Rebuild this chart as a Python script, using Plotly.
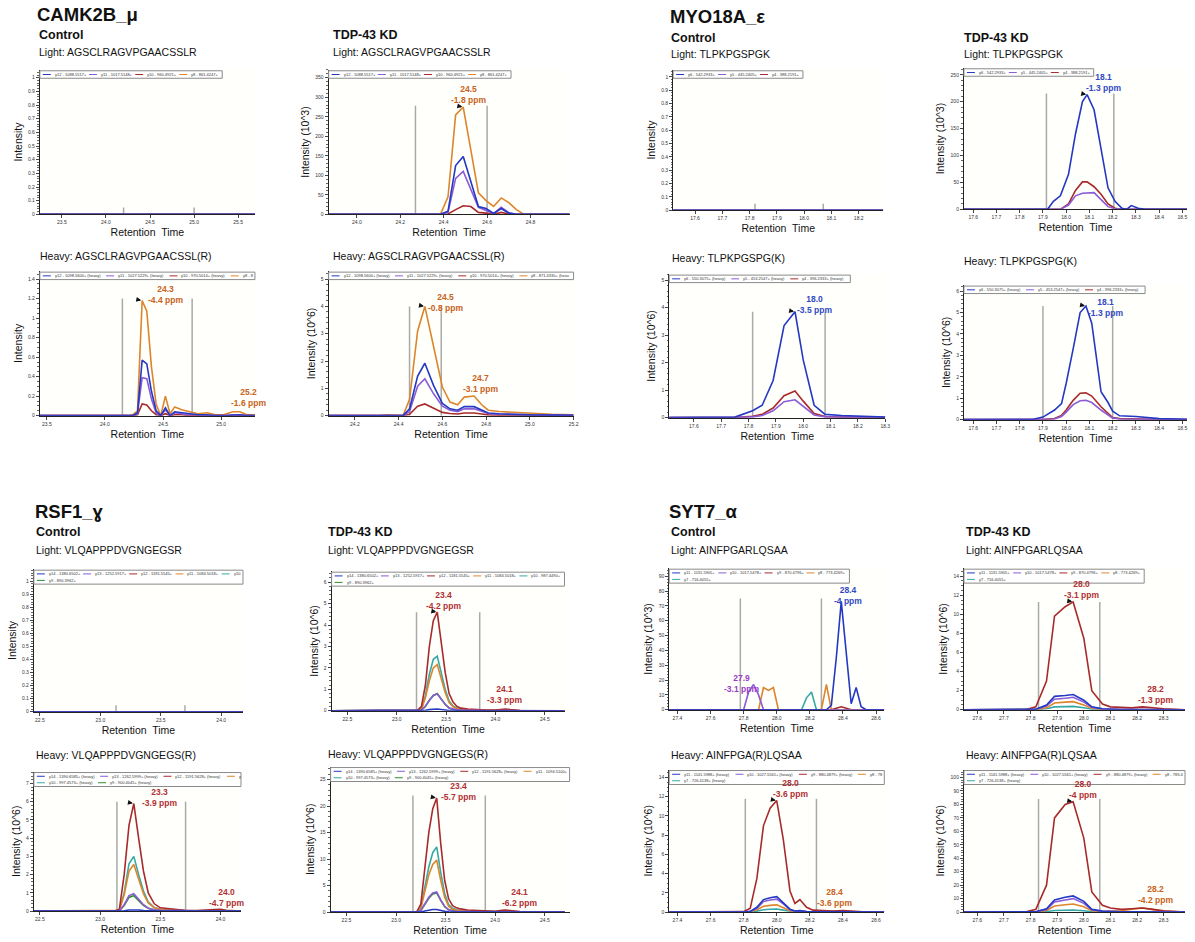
import plotly.graph_objects as go

W, H = 1195, 942
FONT = "Liberation Sans, Arial, sans-serif"

BLUE, PURPLE, BROWN, CHOC, CYAN, GREEN = "#2438c4", "#8a5cd6", "#a82a2c", "#dd852c", "#35a8a8", "#2e8b2e"
L_BLUE, L_PURPLE, L_RED, L_ORANGE = "#3148c4", "#9a3cc8", "#b03034", "#c8621c"

# ---------------- CAMK2B_mu ----------------
camk_light_ions = ["y12 - 1088.5517+", "y11 - 1017.5148+", "y10 - 960.4921+", "y8 - 861.4247+"]
camk_heavy_ions = ["y12 - 1098.5600+ (heavy)", "y11 - 1027.5229+ (heavy)", "y10 - 970.5014+ (heavy)", "y8 - 871.4330+ (heavy)"]

camk_ctrl_light_rt = [23.25, 23.7, 24.2, 24.7, 25.2, 25.69]
camk_ctrl_light_zero = [0, 0, 0, 0, 0, 0]

camk_kd_light_rt = [23.87, 24.35, 24.385, 24.42, 24.455, 24.49, 24.525, 24.56, 24.595, 24.63, 24.665, 24.70, 24.735, 24.77, 24.98]
camk_kd_light_y12 = [0, 0, 0, 8, 125, 148, 85, 20, 15, 2, 15, 3, 0, 0, 0]
camk_kd_light_y11 = [0, 0, 0, 5, 92, 110, 65, 18, 10, 2, 18, 4, 0, 0, 0]
camk_kd_light_y10 = [0, 0, 0, 1, 12, 22, 20, 5, 3, 0, 5, 1, 0, 0, 0]
camk_kd_light_y8 = [0, 0, 0, 45, 255, 275, 165, 55, 35, 20, 42, 30, 12, 0, 0]

camk_ctrl_heavy_rt = [23.44, 24.20, 24.24, 24.28, 24.32, 24.36, 24.40, 24.44, 24.48, 24.52, 24.56, 24.60, 24.66, 24.72, 24.80, 24.88, 24.95, 25.02, 25.10, 25.16, 25.22, 25.29]
camk_ctrl_heavy_y12 = [0, 0, 0, 0.03, 0.57, 0.53, 0.25, 0.05, 0, 0.08, 0, 0.04, 0.03, 0.02, 0.01, 0.01, 0, 0, 0.01, 0.01, 0, 0]
camk_ctrl_heavy_y11 = [0, 0, 0, 0.02, 0.39, 0.38, 0.17, 0.03, 0, 0.06, 0, 0.03, 0.02, 0.01, 0.01, 0, 0, 0, 0.01, 0.01, 0, 0]
camk_ctrl_heavy_y10 = [0, 0, 0, 0.01, 0.12, 0.11, 0.05, 0.01, 0, 0.02, 0, 0.01, 0.01, 0, 0, 0, 0, 0, 0, 0, 0, 0]
camk_ctrl_heavy_y8 = [0, 0, 0.01, 0.05, 1.18, 1.07, 0.5, 0.12, 0.0, 0.2, 0.02, 0.09, 0.06, 0.04, 0.02, 0.03, 0.01, 0.01, 0.04, 0.04, 0.01, 0.01]

camk_kd_heavy_rt = [24.08, 24.30, 24.35, 24.40, 24.42, 24.45, 24.487, 24.52, 24.56, 24.60, 24.635, 24.67, 24.70, 24.745, 24.78, 24.81, 24.86, 24.92, 25.0, 25.1, 25.2]
camk_kd_heavy_y12 = [0, 0, 0.01, 0, 0, 0.25, 1.45, 1.92, 1.1, 0.45, 0.25, 0.2, 0.33, 0.33, 0.2, 0.1, 0.07, 0.05, 0.03, 0.02, 0.01]
camk_kd_heavy_y11 = [0, 0, 0.01, 0, 0, 0.15, 1.08, 1.35, 0.8, 0.35, 0.2, 0.15, 0.25, 0.25, 0.15, 0.08, 0.05, 0.04, 0.03, 0.02, 0.01]
camk_kd_heavy_y10 = [0, 0, 0, 0, 0, 0.05, 0.35, 0.43, 0.28, 0.12, 0.08, 0.06, 0.1, 0.1, 0.06, 0.03, 0.02, 0.02, 0.01, 0.01, 0]
camk_kd_heavy_y8 = [0, 0, 0.03, 0, 0, 0.6, 3.1, 4.0, 2.5, 1.05, 0.5, 0.4, 0.68, 0.72, 0.4, 0.2, 0.15, 0.12, 0.08, 0.05, 0.03]

# ---------------- MYO18A_epsilon ----------------
myo_light_ions = ["y6 - 542.2933+", "y5 - 445.2405+", "y4 - 388.2191+"]
myo_heavy_ions = ["y6 - 550.3075+ (heavy)", "y5 - 453.2547+ (heavy)", "y4 - 396.2333+ (heavy)"]

myo_ctrl_light_rt = [17.52, 17.7, 17.9, 18.1, 18.29]
myo_ctrl_light_zero = [0, 0, 0, 0, 0]

myo_kd_light_rt = [17.56, 17.90, 17.92, 17.945, 17.975, 18.01, 18.04, 18.07, 18.09, 18.12, 18.15, 18.18, 18.21, 18.24, 18.26, 18.28, 18.31, 18.34, 18.52]
myo_kd_light_y6 = [0, 0, 0, 15, 25, 65, 140, 200, 213, 185, 110, 40, 15, 2, 0, 7, 2, 0, 0]
myo_kd_light_y5 = [0, 0, 0, 0, 0, 8, 25, 30, 30, 31, 18, 5, 1, 0, 0, 0, 0, 0, 0]
myo_kd_light_y4 = [0, 0, 0, 0, 0, 10, 35, 51, 51, 42, 28, 10, 2, 0, 0, 0, 0, 0, 0]

myo_ctrl_heavy_rt = [17.51, 17.70, 17.75, 17.815, 17.85, 17.89, 17.93, 17.97, 18.0, 18.04, 18.08, 18.14, 18.2, 18.3]
myo_ctrl_heavy_y6 = [0, 0, 0.02, 0.25, 0.45, 1.35, 3.35, 3.85, 2.1, 0.45, 0.12, 0.08, 0.05, 0.02]
myo_ctrl_heavy_y5 = [0, 0, 0, 0.03, 0.08, 0.25, 0.58, 0.65, 0.4, 0.1, 0.03, 0.02, 0.01, 0]
myo_ctrl_heavy_y4 = [0, 0, 0, 0.05, 0.12, 0.35, 0.8, 0.97, 0.6, 0.15, 0.04, 0.02, 0.01, 0]

myo_kd_heavy_rt = [17.56, 17.85, 17.90, 17.95, 17.98, 18.00, 18.03, 18.06, 18.085, 18.11, 18.15, 18.18, 18.20, 18.23, 18.30, 18.40, 18.52]
myo_kd_heavy_y6 = [0, 0, 0.12, 0.45, 0.75, 1.7, 3.3, 5.0, 5.3, 4.5, 1.3, 0.8, 0.4, 0.18, 0.15, 0.05, 0.02]
myo_kd_heavy_y5 = [0, 0, 0, 0.03, 0.15, 0.35, 0.7, 0.88, 0.9, 0.8, 0.45, 0.2, 0.07, 0.03, 0.01, 0, 0]
myo_kd_heavy_y4 = [0, 0, 0, 0.05, 0.2, 0.45, 0.9, 1.23, 1.25, 1.1, 0.6, 0.3, 0.1, 0.05, 0.02, 0, 0]

# ---------------- RSF1_gamma ----------------
rsf_light_ions = ["y14 - 1380.6502+", "y13 - 1252.5917+", "y12 - 1181.5545+", "y11 - 1084.5018+", "y10 - 987.4490+", "y9 - 890.3962+"]
rsf_heavy_ions = ["y14 - 1390.6585+ (heavy)", "y13 - 1262.5999+ (heavy)", "y12 - 1191.5628+ (heavy)", "y11 - 1094.5100+ (heavy)", "y10 - 997.4573+ (heavy)", "y9 - 900.4045+ (heavy)"]

rsf_ctrl_light_rt = [22.45, 22.9, 23.4, 23.9, 24.18]
rsf_ctrl_light_zero = [0, 0, 0, 0, 0]

rsf_kd_rt = [22.34, 23.17, 23.21, 23.25, 23.29, 23.33, 23.37, 23.41, 23.45, 23.49, 23.53, 23.57, 23.61, 23.65, 23.72, 23.80, 23.90, 24.00, 24.05, 24.10, 24.15, 24.25, 24.70]
rsf_kd_light_y14 = [0, 0, 0, 0, 0.02, 0.05, 0.07, 0.08, 0.06, 0.03, 0.01, 0.01, 0, 0, 0, 0, 0, 0, 0, 0, 0, 0, 0]
rsf_kd_light_y13 = [0, 0, 0, 0.03, 0.22, 0.5, 0.72, 0.78, 0.55, 0.3, 0.13, 0.07, 0.04, 0.03, 0.02, 0.01, 0, 0, 0.01, 0.01, 0.01, 0, 0]
rsf_kd_light_y12 = [0, 0, 0.02, 0.2, 1.2, 3.0, 4.2, 4.6, 3.3, 1.8, 0.8, 0.4, 0.2, 0.12, 0.08, 0.05, 0.03, 0.03, 0.06, 0.08, 0.05, 0.01, 0]
rsf_kd_light_y11 = [0, 0, 0.01, 0.08, 0.6, 1.4, 2.0, 2.15, 1.5, 0.85, 0.38, 0.18, 0.1, 0.06, 0.04, 0.02, 0.01, 0.01, 0.02, 0.03, 0.02, 0, 0]
rsf_kd_light_y10 = [0, 0, 0.01, 0.1, 0.7, 1.7, 2.4, 2.55, 1.8, 1.0, 0.45, 0.22, 0.12, 0.08, 0.05, 0.03, 0.02, 0.01, 0.02, 0.03, 0.02, 0, 0]
rsf_kd_light_y9 = [0, 0, 0, 0.03, 0.2, 0.5, 0.7, 0.8, 0.55, 0.3, 0.13, 0.06, 0.04, 0.02, 0.01, 0.01, 0, 0, 0.01, 0.01, 0, 0, 0]

rsf_ctrl_heavy_rt = [22.45, 23.08, 23.12, 23.16, 23.20, 23.24, 23.28, 23.32, 23.36, 23.40, 23.45, 23.50, 23.60, 23.70, 23.80, 23.90, 23.95, 24.00, 24.05, 24.17]
rsf_ctrl_heavy_y14 = [0, 0, 0, 0, 0.02, 0.06, 0.08, 0.06, 0.03, 0.01, 0, 0, 0, 0, 0, 0, 0, 0, 0, 0]
rsf_ctrl_heavy_y13 = [0, 0, 0, 0.02, 0.35, 0.85, 0.95, 0.65, 0.35, 0.16, 0.07, 0.04, 0.02, 0.01, 0.01, 0.01, 0.01, 0.01, 0.01, 0]
rsf_ctrl_heavy_y12 = [0, 0, 0, 0.1, 2.0, 4.7, 5.9, 4.0, 2.2, 1.0, 0.4, 0.18, 0.1, 0.05, 0.03, 0.04, 0.08, 0.1, 0.05, 0]
rsf_ctrl_heavy_y11 = [0, 0, 0, 0.04, 0.9, 2.2, 2.55, 1.7, 0.95, 0.45, 0.18, 0.09, 0.05, 0.03, 0.02, 0.02, 0.03, 0.03, 0.02, 0]
rsf_ctrl_heavy_y10 = [0, 0, 0, 0.05, 1.0, 2.6, 3.0, 2.0, 1.1, 0.5, 0.2, 0.1, 0.05, 0.03, 0.02, 0.02, 0.03, 0.03, 0.02, 0]
rsf_ctrl_heavy_y9 = [0, 0, 0, 0.02, 0.3, 0.75, 0.85, 0.58, 0.32, 0.15, 0.06, 0.03, 0.02, 0.01, 0.01, 0.01, 0.01, 0.01, 0.01, 0]

rsf_kd_heavy_y14 = [0, 0, 0, 0.03, 0.2, 0.38, 0.48, 0.5, 0.3, 0.14, 0.06, 0.03, 0.02, 0.01, 0.01, 0, 0, 0, 0, 0, 0, 0, 0]
rsf_kd_heavy_y13 = [0, 0, 0.02, 0.3, 1.5, 2.8, 3.6, 3.8, 2.3, 1.1, 0.45, 0.22, 0.14, 0.1, 0.06, 0.04, 0.03, 0.02, 0.03, 0.04, 0.03, 0.01, 0]
rsf_kd_heavy_y12 = [0, 0, 0.1, 1.5, 8, 15, 19.5, 21.5, 13, 6, 2.5, 1.2, 0.8, 0.6, 0.4, 0.3, 0.2, 0.15, 0.3, 0.4, 0.3, 0.1, 0]
rsf_kd_heavy_y11 = [0, 0, 0.04, 0.7, 3.8, 7.0, 9.0, 9.8, 6.0, 2.8, 1.1, 0.55, 0.35, 0.25, 0.15, 0.1, 0.08, 0.06, 0.08, 0.12, 0.08, 0.02, 0]
rsf_kd_heavy_y10 = [0, 0, 0.05, 0.8, 4.5, 8.5, 11.2, 12.3, 7.5, 3.5, 1.4, 0.7, 0.45, 0.3, 0.2, 0.15, 0.1, 0.08, 0.1, 0.15, 0.1, 0.03, 0]
rsf_kd_heavy_y9 = [0, 0, 0.02, 0.28, 1.4, 2.6, 3.4, 3.6, 2.2, 1.0, 0.42, 0.2, 0.13, 0.09, 0.05, 0.04, 0.03, 0.02, 0.03, 0.04, 0.03, 0.01, 0]

# ---------------- SYT7_alpha ----------------
syt_light_ions = ["y11 - 1131.5905+", "y10 - 1017.5478+", "y9 - 870.4796+", "y8 - 773.4269+", "y7 - 716.4055+"]
syt_heavy_ions = ["y11 - 1141.5988+ (heavy)", "y10 - 1027.5561+ (heavy)", "y9 - 880.4879+ (heavy)", "y8 - 783.4352+ (heavy)", "y7 - 726.4138+ (heavy)"]

syt_ctrl_light_rt = [27.35, 27.77, 27.80, 27.83, 27.86, 27.89, 27.92, 27.95, 27.98, 28.01, 28.12, 28.15, 28.18, 28.21, 28.24, 28.27, 28.30, 28.33, 28.36, 28.39, 28.42, 28.45, 28.48, 28.51, 28.54, 28.65]
syt_ctrl_light_y11 = [0, 0, 0, 0, 0, 0, 0, 0, 0, 0, 0, 0, 0, 0, 0, 0, 0, 3, 35, 73, 40, 4, 15, 2, 0, 0]
syt_ctrl_light_y10 = [0, 0, 0, 12, 17, 10, 0, 0, 0, 0, 0, 0, 0, 0, 0, 0, 0, 0, 0, 0, 0, 0, 0, 0, 0, 0]
syt_ctrl_light_y9 = [0, 0, 0, 0, 0, 0, 0, 0, 0, 0, 0, 0, 0, 0, 0, 0, 0, 0, 1, 2, 1, 0, 0, 0, 0, 0]
syt_ctrl_light_y8 = [0, 0, 0, 0, 0, 0, 15, 13, 15, 0, 0, 0, 0, 0, 0, 0, 17, 0, 0, 0, 0, 0, 0, 0, 0, 0]
syt_ctrl_light_y7 = [0, 0, 0, 0, 0, 0, 0, 0, 0, 0, 0, 0, 8, 12, 0, 0, 0, 0, 0, 0, 0, 0, 0, 0, 0, 0]

syt_kd_rt = [27.55, 27.78, 27.82, 27.86, 27.89, 27.93, 27.96, 28.00, 28.03, 28.07, 28.10, 28.14, 28.18, 28.22, 28.26, 28.30, 28.38]
syt_kd_light_y11 = [0, 0, 0.05, 0.5, 1.4, 1.5, 1.6, 1.0, 0.3, 0.1, 0.05, 0.03, 0.02, 0.03, 0.02, 0.01, 0]
syt_kd_light_y10 = [0, 0, 0.04, 0.4, 1.1, 1.2, 1.3, 0.8, 0.25, 0.08, 0.04, 0.02, 0.02, 0.02, 0.01, 0, 0]
syt_kd_light_y9 = [0, 0, 0.3, 3.0, 9.8, 10.8, 11.3, 7.5, 2.0, 0.6, 0.3, 0.25, 0.2, 0.3, 0.2, 0.1, 0]
syt_kd_light_y8 = [0, 0, 0.02, 0.2, 0.7, 0.8, 0.85, 0.5, 0.15, 0.05, 0.02, 0.01, 0.01, 0.02, 0.01, 0, 0]
syt_kd_light_y7 = [0, 0, 0.01, 0.1, 0.3, 0.32, 0.35, 0.2, 0.06, 0.02, 0.01, 0, 0, 0, 0, 0, 0]

syt_ctrl_heavy_rt = [27.35, 27.76, 27.80, 27.84, 27.88, 27.92, 27.96, 28.00, 28.04, 28.08, 28.11, 28.14, 28.18, 28.22, 28.28, 28.34, 28.40, 28.46, 28.52, 28.65]
syt_ctrl_heavy_y11 = [0, 0, 0.01, 0.08, 0.5, 1.3, 1.5, 1.6, 1.0, 0.3, 0.12, 0.15, 0.06, 0.03, 0.02, 0.02, 0.03, 0.02, 0, 0]
syt_ctrl_heavy_y10 = [0, 0, 0.01, 0.06, 0.4, 1.1, 1.25, 1.35, 0.85, 0.25, 0.1, 0.12, 0.05, 0.02, 0.02, 0.02, 0.02, 0.01, 0, 0]
syt_ctrl_heavy_y9 = [0, 0, 0.05, 0.4, 3.5, 9.0, 10.8, 11.6, 7.5, 2.2, 0.9, 1.3, 0.5, 0.2, 0.12, 0.1, 0.15, 0.08, 0.03, 0]
syt_ctrl_heavy_y8 = [0, 0, 0, 0.04, 0.25, 0.6, 0.7, 0.75, 0.45, 0.14, 0.06, 0.08, 0.03, 0.02, 0.03, 0.05, 0.12, 0.05, 0.01, 0]
syt_ctrl_heavy_y7 = [0, 0, 0, 0.02, 0.1, 0.25, 0.3, 0.32, 0.2, 0.06, 0.03, 0.03, 0.01, 0, 0, 0, 0, 0, 0, 0]

syt_kd_heavy_y11 = [0, 0, 0.3, 2.5, 9, 11, 12, 8, 2, 0.7, 0.4, 0.3, 0.3, 0.4, 0.3, 0.1, 0]
syt_kd_heavy_y10 = [0, 0, 0.25, 2, 7.5, 9, 10, 6.5, 1.7, 0.6, 0.3, 0.2, 0.3, 0.3, 0.2, 0.1, 0]
syt_kd_heavy_y9 = [0, 0, 2, 20, 70, 80, 82, 55, 15, 5, 3, 2, 2.5, 3, 2, 1, 0]
syt_kd_heavy_y8 = [0, 0, 0.15, 1.2, 4.5, 5.5, 6, 4, 1, 0.4, 0.5, 1.0, 2.2, 3.0, 1.8, 0.6, 0]
syt_kd_heavy_y7 = [0, 0, 0.05, 0.4, 1.2, 1.4, 1.5, 1.0, 0.3, 0.1, 0.05, 0.03, 0.05, 0.06, 0.04, 0.02, 0]

# peak integration boundaries (retention time)
camk_bounds = {"ctrl_light": [24.2, 25.0], "kd_light": [24.27, 24.60], "ctrl_heavy": [24.15, 24.75], "kd_heavy": [24.45, 24.595]}
myo_bounds = {"ctrl_light": [17.82, 18.07], "kd_light": [17.915, 18.205], "ctrl_heavy": [17.815, 18.08], "kd_heavy": [17.90, 18.20]}
rsf_bounds = {"ctrl_light": [23.13, 23.70], "kd_light": [23.20, 23.84], "ctrl_heavy": [23.14, 23.71], "kd_heavy": [23.17, 23.90]}
syt_bounds = {"ctrl_light": [27.78, 28.27], "kd_light": [27.83, 28.06], "ctrl_heavy": [27.81, 28.24], "kd_heavy": [27.83, 28.06]}


def ser(names, colors, arrays):
    return list(zip(names, colors, arrays))


C4 = [BLUE, PURPLE, BROWN, CHOC]
C3 = [BLUE, PURPLE, BROWN]
C6 = [BLUE, PURPLE, BROWN, CHOC, CYAN, GREEN]
C5 = [BLUE, PURPLE, BROWN, CHOC, CYAN]

panels = [
    # CAMK2B
    dict(box=(40, 256, 70, 215), ymax=1, ymax_px=78, dy=0.1, xr=[23.25, 25.69], t0=23.5, dx=0.5, yt="Intensity",
         rt=camk_ctrl_light_rt, series=ser(camk_light_ions, C4, [camk_ctrl_light_zero] * 4),
         bounds=camk_bounds["ctrl_light"], btop=0.05, per_row=4, peak=None, labels=[]),
    dict(box=(330, 572, 70, 215), ymax=350, ymax_px=78, dy=50, xr=[23.87, 24.98], t0=24.0, dx=0.2, yt="Intensity (10^3)",
         rt=camk_kd_light_rt, series=ser(camk_light_ions, C4, [camk_kd_light_y12, camk_kd_light_y11, camk_kd_light_y10, camk_kd_light_y8]),
         bounds=camk_bounds["kd_light"], btop=278, per_row=4, peak=3,
         labels=[(470, 95, "24.5<br>-1.8 ppm", L_ORANGE)]),
    dict(box=(40, 256, 272, 417), ymax=1.4, ymax_px=280, dy=0.2, xr=[23.44, 25.29], t0=23.5, dx=0.5, yt="Intensity",
         rt=camk_ctrl_heavy_rt, series=ser(camk_heavy_ions, C4, [camk_ctrl_heavy_y12, camk_ctrl_heavy_y11, camk_ctrl_heavy_y10, camk_ctrl_heavy_y8]),
         bounds=camk_bounds["ctrl_heavy"], btop=1.2, per_row=4, peak=3,
         labels=[(166, 295, "24.3<br>-4.4 ppm", L_ORANGE), (250, 399, "25.2<br>-1.6 ppm", L_ORANGE)]),
    dict(box=(330, 576, 272, 417), ymax=5, ymax_px=280, dy=1, xr=[24.08, 25.2], t0=24.2, dx=0.2, yt="Intensity (10^6)",
         rt=camk_kd_heavy_rt, series=ser(camk_heavy_ions, C4, [camk_kd_heavy_y12, camk_kd_heavy_y11, camk_kd_heavy_y10, camk_kd_heavy_y8]),
         bounds=camk_bounds["kd_heavy"], btop=4.0, per_row=4, peak=3,
         labels=[(447, 303, "24.5<br>-0.8 ppm", L_ORANGE), (483, 385, "24.7<br>-3.1 ppm", L_ORANGE)]),
    # MYO18A
    dict(box=(676, 887, 70, 211), ymax=1, ymax_px=77, dy=0.1, xr=[17.52, 18.29], t0=17.6, dx=0.1, yt="Intensity",
         rt=myo_ctrl_light_rt, series=ser(myo_light_ions, C3, [myo_ctrl_light_zero] * 3),
         bounds=myo_bounds["ctrl_light"], btop=0.05, per_row=3, peak=None, labels=[]),
    dict(box=(968, 1192, 68, 210), ymax=250, ymax_px=75, dy=50, xr=[17.56, 18.52], t0=17.6, dx=0.1, yt="Intensity (10^3)",
         rt=myo_kd_light_rt, series=ser(myo_light_ions, C3, [myo_kd_light_y6, myo_kd_light_y5, myo_kd_light_y4]),
         bounds=myo_bounds["kd_light"], btop=215, per_row=3, peak=0,
         labels=[(1108, 83, "18.1<br>-1.3 ppm", L_BLUE)]),
    dict(box=(672, 889, 275, 419), ymax=5, ymax_px=281, dy=1, xr=[17.51, 18.3], t0=17.6, dx=0.1, yt="Intensity (10^6)",
         rt=myo_ctrl_heavy_rt, series=ser(myo_heavy_ions, C3, [myo_ctrl_heavy_y6, myo_ctrl_heavy_y5, myo_ctrl_heavy_y4]),
         bounds=myo_bounds["ctrl_heavy"], btop=3.85, per_row=3, peak=0,
         labels=[(818, 305, "18.0<br>-3.5 ppm", L_BLUE)]),
    dict(box=(968, 1192, 286, 421), ymax=6, ymax_px=292, dy=1, xr=[17.56, 18.52], t0=17.6, dx=0.1, yt="Intensity (10^6)",
         rt=myo_kd_heavy_rt, series=ser(myo_heavy_ions, C3, [myo_kd_heavy_y6, myo_kd_heavy_y5, myo_kd_heavy_y4]),
         bounds=myo_bounds["kd_heavy"], btop=5.3, per_row=3, peak=0,
         labels=[(1110, 308, "18.1<br>-1.3 ppm", L_BLUE)]),
    # RSF1
    dict(box=(34, 244, 571, 714), ymax=1, ymax_px=583, dy=0.1, xr=[22.45, 24.18], t0=22.5, dx=0.5, yt="Intensity",
         rt=rsf_ctrl_light_rt, series=ser(rsf_light_ions, C6, [rsf_ctrl_light_zero] * 6),
         bounds=rsf_bounds["ctrl_light"], btop=0.05, per_row=5, peak=None, labels=[]),
    dict(box=(333, 567, 573, 713), ymax=6, ymax_px=584, dy=1, xr=[22.34, 24.7], t0=22.5, dx=0.5, yt="Intensity (10^6)",
         rt=rsf_kd_rt, series=ser(rsf_light_ions, C6, [rsf_kd_light_y14, rsf_kd_light_y13, rsf_kd_light_y12, rsf_kd_light_y11, rsf_kd_light_y10, rsf_kd_light_y9]),
         bounds=rsf_bounds["kd_light"], btop=4.6, per_row=5, peak=2,
         labels=[(445, 602, "23.4<br>-4.2 ppm", L_RED), (507, 697, "24.1<br>-3.3 ppm", L_RED)]),
    dict(box=(34, 242, 774, 914), ymax=7, ymax_px=786, dy=1, xr=[22.45, 24.17], t0=22.5, dx=0.5, yt="Intensity (10^6)",
         rt=rsf_ctrl_heavy_rt, series=ser(rsf_heavy_ions, C6, [rsf_ctrl_heavy_y14, rsf_ctrl_heavy_y13, rsf_ctrl_heavy_y12, rsf_ctrl_heavy_y11, rsf_ctrl_heavy_y10, rsf_ctrl_heavy_y9]),
         bounds=rsf_bounds["ctrl_heavy"], btop=6.0, per_row=4, peak=2,
         labels=[(160, 800, "23.3<br>-3.9 ppm", L_RED), (227, 900, "24.0<br>-4.7 ppm", L_RED)]),
    dict(box=(332, 572, 769, 915), ymax=25, ymax_px=782, dy=5, xr=[22.34, 24.75], t0=22.5, dx=0.5, yt="Intensity (10^6)",
         rt=rsf_kd_rt, series=ser(rsf_heavy_ions, C6, [rsf_kd_heavy_y14, rsf_kd_heavy_y13, rsf_kd_heavy_y12, rsf_kd_heavy_y11, rsf_kd_heavy_y10, rsf_kd_heavy_y9]),
         bounds=rsf_bounds["kd_heavy"], btop=22, per_row=4, peak=2,
         labels=[(460, 794, "23.4<br>-5.7 ppm", L_RED), (522, 900, "24.1<br>-6.2 ppm", L_RED)]),
    # SYT7
    dict(box=(672, 888, 570, 712), ymax=90, ymax_px=578, dy=10, xr=[27.35, 28.65], t0=27.4, dx=0.2, yt="Intensity (10^3)",
         rt=syt_ctrl_light_rt, series=ser(syt_light_ions, C5, [syt_ctrl_light_y11, syt_ctrl_light_y10, syt_ctrl_light_y9, syt_ctrl_light_y8, syt_ctrl_light_y7]),
         bounds=syt_bounds["ctrl_light"], btop=75, per_row=4, peak=None,
         labels=[(745, 686, "27.9<br>-3.1 ppm", L_PURPLE), (852, 597, "28.4<br>-4 ppm", L_BLUE)]),
    dict(box=(968, 1190, 570, 712), ymax=14, ymax_px=578, dy=2, xr=[27.55, 28.38], t0=27.6, dx=0.1, yt="Intensity (10^6)",
         rt=syt_kd_rt, series=ser(syt_light_ions, C5, [syt_kd_light_y11, syt_kd_light_y10, syt_kd_light_y9, syt_kd_light_y8, syt_kd_light_y7]),
         bounds=syt_bounds["kd_light"], btop=11.3, per_row=4, peak=2,
         labels=[(1086, 591, "28.0<br>-3.1 ppm", L_RED), (1160, 697, "28.2<br>-1.3 ppm", L_RED)]),
    dict(box=(672, 888, 772, 915), ymax=14, ymax_px=780, dy=2, xr=[27.35, 28.65], t0=27.4, dx=0.2, yt="Intensity (10^6)",
         rt=syt_ctrl_heavy_rt, series=ser(syt_heavy_ions, C5, [syt_ctrl_heavy_y11, syt_ctrl_heavy_y10, syt_ctrl_heavy_y9, syt_ctrl_heavy_y8, syt_ctrl_heavy_y7]),
         bounds=syt_bounds["ctrl_heavy"], btop=11.8, per_row=4, peak=2,
         labels=[(794, 791, "28.0<br>-3.6 ppm", L_RED), (838, 900, "28.4<br>-3.6 ppm", L_ORANGE)]),
    dict(box=(968, 1190, 772, 915), ymax=100, ymax_px=780, dy=10, xr=[27.55, 28.38], t0=27.6, dx=0.1, yt="Intensity (10^6)",
         rt=syt_kd_rt, series=ser(syt_heavy_ions, C5, [syt_kd_heavy_y11, syt_kd_heavy_y10, syt_kd_heavy_y9, syt_kd_heavy_y8, syt_kd_heavy_y7]),
         bounds=syt_bounds["kd_heavy"], btop=84, per_row=4, peak=2,
         labels=[(1088, 792, "28.0<br>-4 ppm", L_RED), (1160, 897, "28.2<br>-4.2 ppm", L_ORANGE)]),
]

texts = [
    # (text, x_px, y_px, size, bold)
    ("CAMK2B_μ", 35, 15, 18.5, True), ("MYO18A_ε", 671, 17, 18.5, True),
    ("RSF1_ɣ", 33, 513, 18.5, True), ("SYT7_α", 670, 513, 18.5, True),
    ("Control", 37, 35, 12.5, True), ("TDP-43 KD", 332, 35, 12.5, True),
    ("Control", 672, 38, 12.5, True), ("TDP-43 KD", 966, 38, 12.5, True),
    ("Control", 34, 534, 12.5, True), ("TDP-43 KD", 327, 534, 12.5, True),
    ("Control", 672, 534, 12.5, True), ("TDP-43 KD", 968, 534, 12.5, True),
    ("Light: AGSCLRAGVPGAACSSLR", 37, 52, 10.5, False), ("Light: AGSCLRAGVPGAACSSLR", 332, 52, 10.5, False),
    ("Heavy: AGSCLRAGVPGAACSSL(R)", 38, 257, 10.5, False), ("Heavy: AGSCLRAGVPGAACSSL(R)", 332, 257, 10.5, False),
    ("Light: TLPKPGSPGK", 672, 54, 10.5, False), ("Light: TLPKPGSPGK", 966, 54, 10.5, False),
    ("Heavy: TLPKPGSPG(K)", 673, 259, 10.5, False), ("Heavy: TLPKPGSPG(K)", 966, 262, 10.5, False),
    ("Light: VLQAPPPDVGNGEGSR", 34, 552, 10.5, False), ("Light: VLQAPPPDVGNGEGSR", 327, 552, 10.5, False),
    ("Heavy: VLQAPPPDVGNGEGS(R)", 34, 757, 10.5, False), ("Heavy: VLQAPPPDVGNGEGS(R)", 327, 756, 10.5, False),
    ("Light: AINFPGARLQSAA", 672, 552, 10.5, False), ("Light: AINFPGARLQSAA", 968, 552, 10.5, False),
    ("Heavy: AINFPGA(R)LQSAA", 672, 757, 10.5, False), ("Heavy: AINFPGA(R)LQSAA", 968, 757, 10.5, False),
]

CHAR_W = 2.15  # approx. width of one legend character (px) at legend font size


def fx(x):
    return x / W


def fy(y):
    return 1 - y / H


fig = go.Figure()
layout = {}
shapes = []
annotations = []

for i, p in enumerate(panels, start=1):
    sfx = "" if i == 1 else str(i)
    xa, ya = "x" + sfx, "y" + sfx
    l, r, t, b = p["box"]
    ytop = p["ymax"] * (b - t) / (b - p["ymax_px"])
    # first fragment drawn last (on top), as in Skyline
    for name, color, vals in reversed(p["series"]):
        fig.add_trace(go.Scatter(x=p["rt"], y=vals, name=name, mode="lines",
                                 line=dict(color=color, width=1.6), xaxis=xa, yaxis=ya,
                                 showlegend=False, hoverinfo="x+y+name"))
    layout["xaxis" + sfx] = dict(
        domain=[fx(l), fx(r)], anchor=ya, range=p["xr"], tick0=p["t0"], dtick=p["dx"],
        tickformat=".1f", showgrid=False, zeroline=False, showline=True, linecolor="#222",
        linewidth=1, ticks="outside", ticklen=3, tickcolor="#444",
        tickfont=dict(size=5, color="#333", family=FONT),
        title=dict(text="Retention  Time", font=dict(size=10.5, color="#111", family=FONT), standoff=4),
    )
    layout["yaxis" + sfx] = dict(
        domain=[fy(b), fy(t)], anchor=xa, range=[0, ytop], tick0=0, dtick=p["dy"],
        showgrid=False, zeroline=False, showline=True, linecolor="#222", linewidth=1,
        ticks="outside", ticklen=3, tickcolor="#444",
        minor=dict(ticks="outside", ticklen=1.5, nticks=5, tickcolor="#666"),
        tickfont=dict(size=5, color="#333", family=FONT),
        title=dict(text=p["yt"], font=dict(size=10.5, color="#111", family=FONT), standoff=3),
    )
    shapes.append(dict(type="rect", xref="paper", yref="paper", x0=fx(l), x1=fx(r), y0=fy(b), y1=fy(t),
                       fillcolor="#fffffb", line=dict(width=0), layer="below"))
    for bx in p["bounds"]:
        shapes.append(dict(type="line", xref=xa, yref=ya, x0=bx, x1=bx, y0=0, y1=p["btop"],
                           line=dict(color="#a9a9a9", width=1.5), layer="below"))
    if p["peak"] is not None:
        vals = p["series"][p["peak"]][2]
        k = max(range(len(vals)), key=lambda j: vals[j])
        annotations.append(dict(xref=xa, yref=ya, x=p["rt"][k], y=vals[k], text="", showarrow=True,
                                ax=-5, ay=-1, arrowhead=2, arrowsize=0.55, arrowwidth=1.8,
                                arrowcolor="#111", standoff=1))
    for lx, ly, txt, col in p["labels"]:
        annotations.append(dict(xref="paper", yref="paper", x=fx(lx), y=fy(ly), text=txt,
                                showarrow=False, xanchor="center", yanchor="middle",
                                font=dict(size=8.5, color=col, family=FONT, weight="bold")))
    # Skyline-style legend box at the top of the plot area (clipped at the plot's right edge)
    rows = []
    for name, color, vals in p["series"]:
        if not rows or len(rows[-1]) == p["per_row"]:
            rows.append([])
        rows[-1].append((name, color))
    row_h = 6.5
    widths = [sum(12 + CHAR_W * len(n) for n, _ in row) for row in rows]
    box_w = min(max(widths) + 4, r - l)
    shapes.append(dict(type="rect", xref="paper", yref="paper", x0=fx(l), x1=fx(l + box_w),
                       y0=fy(t + 1 + row_h * len(rows) + 1), y1=fy(t + 1),
                       fillcolor="white", line=dict(color="#8a8a8a", width=1), layer="above"))
    for ri, row in enumerate(rows):
        cy = t + 1.5 + row_h * ri + row_h / 2
        cx = l + 3
        for name, color in row:
            if cx + 14 > l + box_w:
                break
            shapes.append(dict(type="line", xref="paper", yref="paper", x0=fx(cx), x1=fx(cx + 8),
                               y0=fy(cy), y1=fy(cy), line=dict(color=color, width=1), layer="above"))
            room = int((l + box_w - (cx + 10) - 1) / CHAR_W)
            shown = name if len(name) <= room else name[:room]
            annotations.append(dict(xref="paper", yref="paper", x=fx(cx + 10), y=fy(cy), text=shown,
                                    showarrow=False, xanchor="left", yanchor="middle",
                                    font=dict(size=4, color="#333", family=FONT)))
            cx += 12 + CHAR_W * len(name)

for txt, x, y, size, bold in texts:
    annotations.append(dict(xref="paper", yref="paper", x=fx(x), y=fy(y), text=txt, showarrow=False,
                            xanchor="left", yanchor="middle",
                            font=dict(size=size, color="#111", family=FONT, weight="bold" if bold else "normal")))

fig.update_layout(
    width=W, height=H, margin=dict(l=0, r=0, t=0, b=0),
    paper_bgcolor="white", plot_bgcolor="rgba(0,0,0,0)",
    font=dict(family=FONT, color="#111"),
    showlegend=False, shapes=shapes, annotations=annotations, **layout,
)

fig.write_html("out.html")
